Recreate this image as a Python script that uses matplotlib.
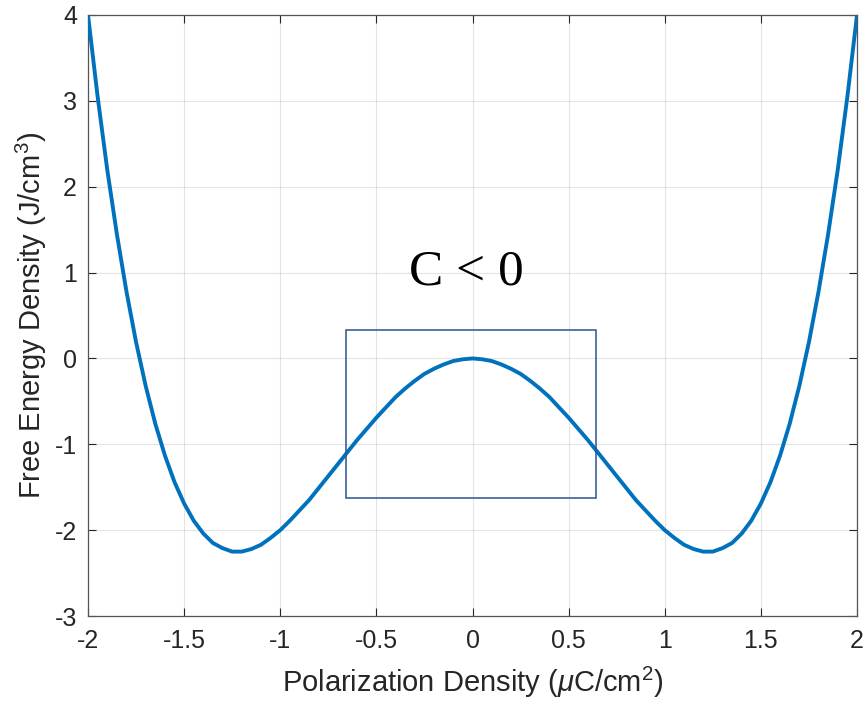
import matplotlib
matplotlib.use("Agg")
import matplotlib.pyplot as plt
from matplotlib.patches import Rectangle

# polarization (uC/cm^2) and free energy density (J/cm^3)
pol = [-2.00, -1.95, -1.90, -1.85, -1.80, -1.75, -1.70, -1.65, -1.60, -1.55,
       -1.50, -1.45, -1.40, -1.35, -1.30, -1.25, -1.20, -1.15, -1.10, -1.05,
       -1.00, -0.95, -0.90, -0.85, -0.80, -0.75, -0.70, -0.65, -0.60, -0.55,
       -0.50, -0.45, -0.40, -0.35, -0.30, -0.25, -0.20, -0.15, -0.10, -0.05,
       0.00, 0.05, 0.10, 0.15, 0.20, 0.25, 0.30, 0.35, 0.40, 0.45,
       0.50, 0.55, 0.60, 0.65, 0.70, 0.75, 0.80, 0.85, 0.90, 0.95,
       1.00, 1.05, 1.10, 1.15, 1.20, 1.25, 1.30, 1.35, 1.40, 1.45,
       1.50, 1.55, 1.60, 1.65, 1.70, 1.75, 1.80, 1.85, 1.90, 1.95, 2.00]
energy = [4.00, 3.05, 2.20, 1.45, 0.78, 0.19, -0.32, -0.76, -1.13, -1.44,
          -1.69, -1.89, -2.04, -2.15, -2.21, -2.25, -2.25, -2.22, -2.17, -2.09,
          -2.00, -1.89, -1.77, -1.65, -1.51, -1.37, -1.23, -1.09, -0.95, -0.82,
          -0.69, -0.57, -0.45, -0.35, -0.26, -0.18, -0.12, -0.07, -0.03, -0.01,
          0.00, -0.01, -0.03, -0.07, -0.12, -0.18, -0.26, -0.35, -0.45, -0.57,
          -0.69, -0.82, -0.95, -1.09, -1.23, -1.37, -1.51, -1.65, -1.77, -1.89,
          -2.00, -2.09, -2.17, -2.22, -2.25, -2.25, -2.21, -2.15, -2.04, -1.89,
          -1.69, -1.44, -1.13, -0.76, -0.32, 0.19, 0.78, 1.45, 2.20, 3.05, 4.00]

# negative capacitance region box
box_x = [-0.66, 0.64]
box_y = [-1.62, 0.33]

xticks = [-2, -1.5, -1, -0.5, 0, 0.5, 1, 1.5, 2]
xticklabels = ["-2", "-1.5", "-1", "-0.5", "0", "0.5", "1", "1.5", "2"]
yticks = [-3, -2, -1, 0, 1, 2, 3, 4]

plt.rcParams['font.family'] = ['Liberation Sans', 'DejaVu Sans']
plt.rcParams['axes.unicode_minus'] = False
plt.rcParams['mathtext.fontset'] = 'custom'
plt.rcParams['mathtext.rm'] = 'Liberation Sans'
plt.rcParams['mathtext.it'] = 'Liberation Sans:italic'

fig = plt.figure(figsize=(8.63, 7.02), dpi=100)
ax = fig.add_axes([88 / 863, 1 - 616 / 702, (857 - 88) / 863, (616 - 15) / 702])

ax.plot(pol, energy, color='#0072BD', linewidth=2.8, zorder=3,
        solid_joinstyle='round')

ax.add_patch(Rectangle((box_x[0], box_y[0]), box_x[1] - box_x[0], box_y[1] - box_y[0],
                       fill=False, edgecolor='#2C5491', linewidth=1.1, zorder=4))

ax.text(-0.03, 0.86, "C < 0", family='Liberation Serif', fontsize=37,
        ha='center', va='baseline', color='black')

ax.set_xlim(-2, 2)
ax.set_ylim(-3, 4)
ax.set_xticks(xticks)
ax.set_xticklabels(xticklabels)
ax.set_yticks(yticks)

ax.grid(True, color='#262626', alpha=0.12, linewidth=0.8)
ax.set_axisbelow(True)
ax.tick_params(direction='in', length=6, width=0.8, colors='#262626',
               labelsize=18, top=True, right=True)
ax.tick_params(axis='x', pad=9)
ax.tick_params(axis='y', pad=8)
for s in ax.spines.values():
    s.set_color('#555555')
    s.set_linewidth(0.9)

ax.set_xlabel(r"Polarization Density ($\mu$C/cm$^2$)", fontsize=21, color='#262626', labelpad=9)
ax.set_ylabel(r"Free Energy Density (J/cm$^3$)", fontsize=21, color='#262626', labelpad=4)

fig.savefig("out.png", dpi=100)
